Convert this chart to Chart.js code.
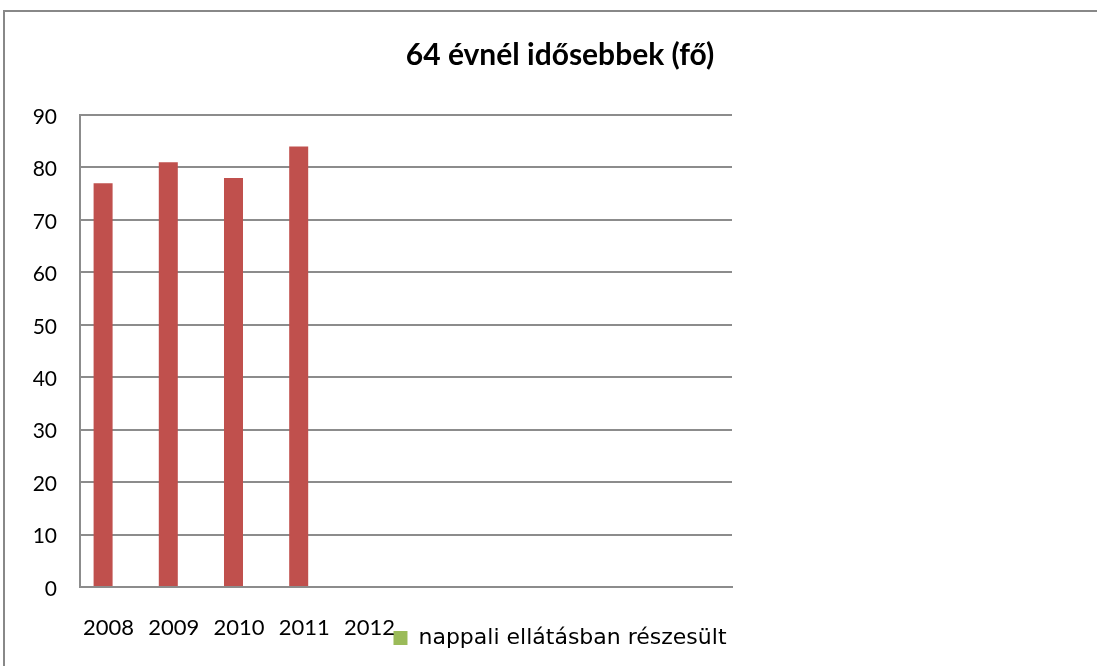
<!DOCTYPE html>
<html>
<head>
<meta charset="utf-8">
<script src="https://cdn.jsdelivr.net/npm/chart.js@4/dist/chart.umd.min.js"></script>
<style>
html,body{margin:0;padding:0;background:#fff;}
#wrap{position:relative;width:1097px;height:666px;}
</style>
</head>
<body>
<div id="wrap"><canvas id="c" width="1097" height="666"></canvas></div>
<script>
const categories = ['2008', '2009', '2010', '2011', '2012', '', '', '', '', ''];
const seriesNames = ['64 évnél idősebbek (fő)', 'nappali ellátásban részesült'];
const redValues = [77, 81, 78, 84, null, null, null, null, null, null];
const greenValues = [null, null, null, null, null, null, null, null, null, null];
const yTicks = [0, 10, 20, 30, 40, 50, 60, 70, 80, 90];
const titleText = '64 évnél idősebbek (fő)';

const FONT = 'Lato, "Open Sans", sans-serif';
const GRID = '#8c8c8c';

const borderPlugin = {
  id: 'outerBorder',
  beforeDraw(chart) {
    const ctx = chart.ctx;
    ctx.save();
    ctx.fillStyle = '#fff';
    ctx.fillRect(0, 0, chart.width, chart.height);
    ctx.strokeStyle = '#888888';
    ctx.lineWidth = 2;
    ctx.strokeRect(4, 11, 1200, 1000);
    ctx.restore();
  },
  afterLayout(chart) {
    // let the category labels share the row with the legend (no clipping at the scale box)
    chart.scales.x.bottom = chart.height;
  }
};

new Chart(document.getElementById('c'), {
  type: 'bar',
  data: {
    labels: categories,
    datasets: [
      { label: seriesNames[0], data: redValues, backgroundColor: '#C0504D', yAxisID: 'y' },
      { label: seriesNames[1], data: greenValues, backgroundColor: '#9BBB59', yAxisID: 'y' }
    ]
  },
  options: {
    responsive: false,
    animation: false,
    devicePixelRatio: 1,
    categoryPercentage: 0.583,
    barPercentage: 1.0,
    layout: { padding: { left: 23, right: 0, top: 0, bottom: 7 } },
    plugins: {
      title: {
        display: true,
        text: titleText,
        color: '#000',
        font: { family: FONT, size: 30, weight: 'bold' },
        padding: { top: 37, bottom: 42 }
      },
      legend: {
        display: true,
        position: 'bottom',
        labels: {
          filter: (item) => item.datasetIndex === 1,
          boxWidth: 14,
          boxHeight: 14,
          color: '#000',
          font: { family: '"DejaVu Sans", sans-serif', size: 22 },
          padding: 10
        }
      },
      tooltip: { enabled: false }
    },
    scales: {
      x: {
        grid: { display: false, drawTicks: false },
        border: { display: true, color: GRID, width: 2 },
        ticks: {
          color: '#000',
          font: { family: FONT, size: 22 },
          padding: 28,
          labelOffset: -4,
          maxRotation: 0,
          autoSkip: false
        },
        afterFit: (s) => { s.height = 30; }
      },
      y: {
        min: 0,
        max: 90,
        afterBuildTicks: (s) => { s.ticks = yTicks.map(v => ({ value: v })); },
        grid: { color: GRID, lineWidth: 2, drawTicks: false },
        border: { display: true, color: GRID, width: 2 },
        ticks: {
          color: '#000',
          font: { family: FONT, size: 21 },
          padding: 23,
          labelOffset: 2
        },
        afterFit: (s) => { s.width = 57; }
      },
      yRight: {
        position: 'right',
        display: true,
        grid: { display: false, drawTicks: false },
        border: { display: false },
        ticks: { display: false },
        afterFit: (s) => { s.width = 365; }
      }
    }
  },
  plugins: [borderPlugin]
});
</script>
</body>
</html>
